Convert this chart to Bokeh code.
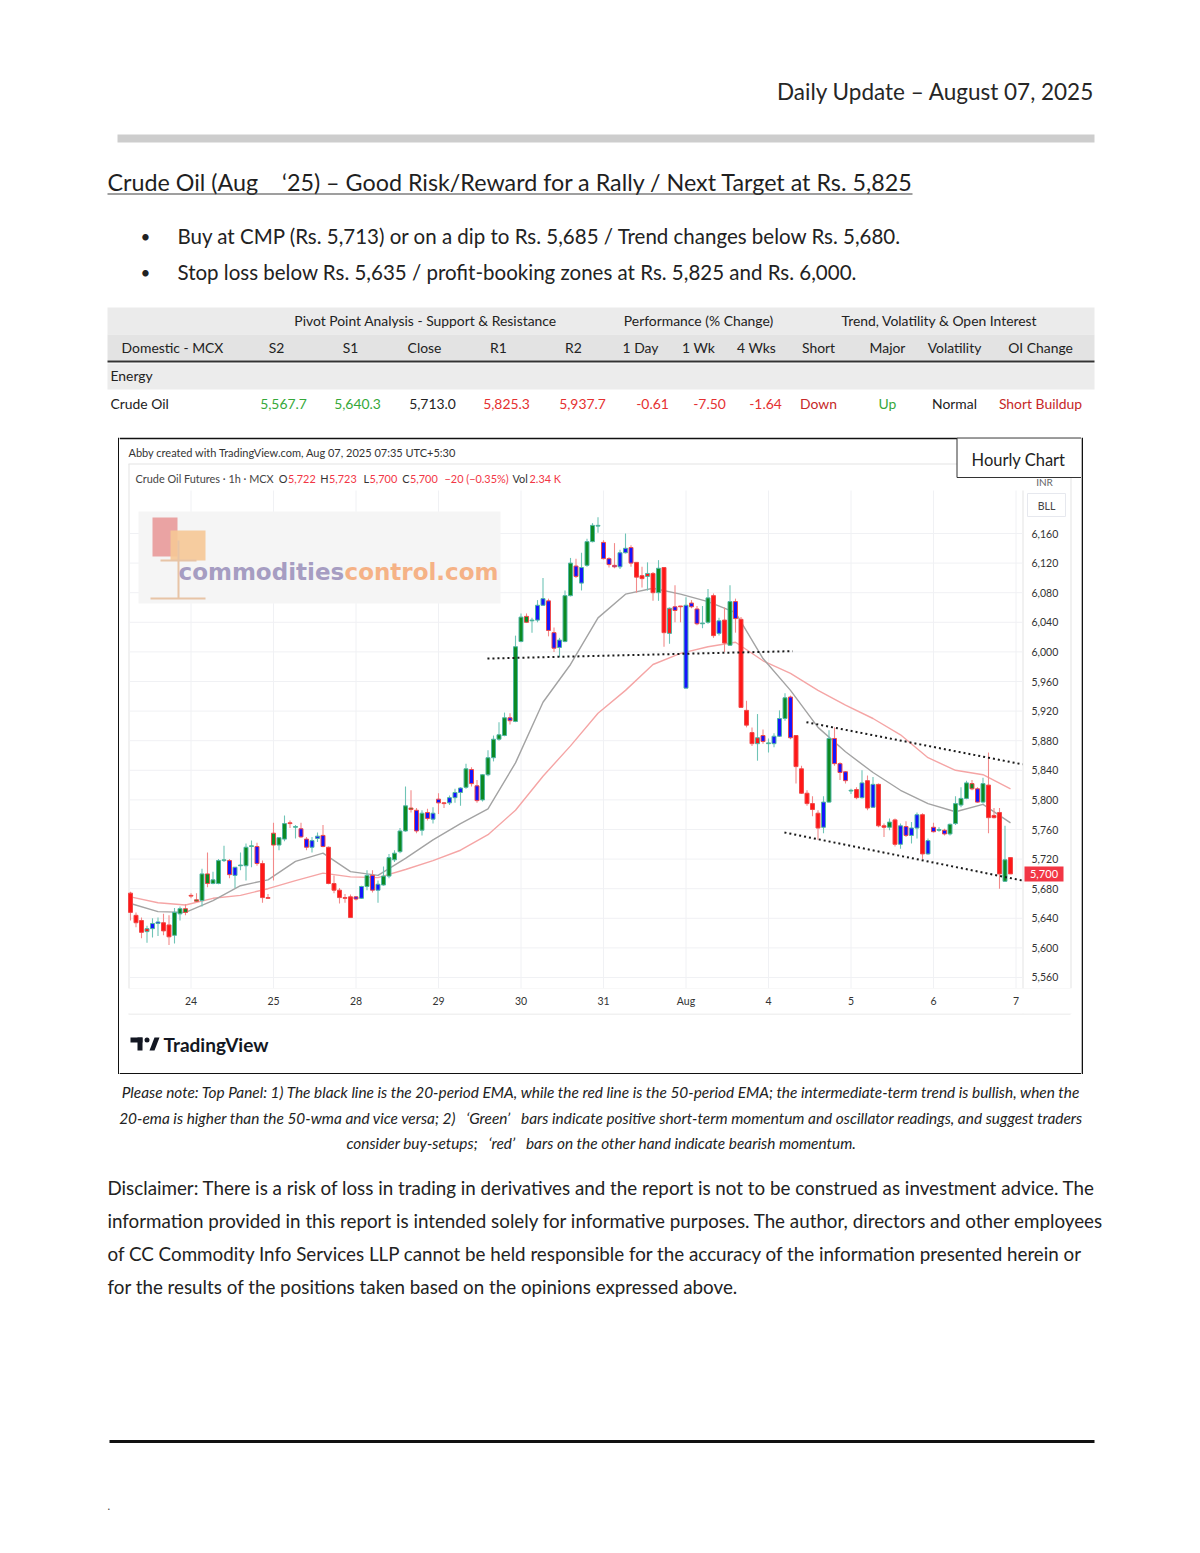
from bokeh.plotting import figure
from bokeh.layouts import column, row
from bokeh.models import Range1d, ColumnDataSource, FixedTicker
from bokeh.core.properties import value
from bokeh.embed import file_html
from bokeh.resources import INLINE

# ---------------- chart data (hourly candles, MCX crude oil) ----------------
opens = [5674, 5644, 5637, 5622, 5626, 5633, 5634, 5631, 5617, 5646,
         5653, 5671, 5665, 5664, 5700, 5687, 5687, 5718, 5718, 5698,
         5711, 5711, 5737, 5737, 5714, 5668, 5755, 5739, 5747, 5769,
         5763, 5761, 5747, 5736, 5748, 5752, 5736, 5687, 5678, 5668,
         5669, 5669, 5667, 5683, 5698, 5678, 5685, 5697, 5719, 5730,
         5758, 5789, 5786, 5759, 5783, 5774, 5801, 5796, 5796, 5803,
         5810, 5817, 5841, 5819, 5800, 5834, 5857, 5882, 5887, 5911,
         5906, 6014, 6048, 6042, 6043, 6063, 6069, 6026, 6006, 6014,
         6076, 6116, 6093, 6117, 6149, 6170, 6148, 6126, 6117, 6115,
         6134, 6141, 6121, 6103, 6102, 6106, 6080, 6114, 6025, 6061,
         6062, 5951, 6066, 6058, 6038, 6040, 6076, 6025, 6043, 6009,
         6068, 6044, 5921, 5891, 5876, 5887, 5876, 5876, 5886, 5910,
         5939, 5887, 5842, 5809, 5795, 5782, 5763, 5797, 5883, 5849,
         5838, 5812, 5814, 5803, 5826, 5790, 5821, 5765, 5763, 5773,
         5740, 5764, 5752, 5762, 5780, 5727, 5763, 5759, 5759, 5754,
         5768, 5793, 5802, 5822, 5815, 5797, 5820, 5779, 5783, 5690,
         5722]
highs = [5676, 5648, 5641, 5630, 5640, 5641, 5646, 5644, 5654, 5656,
         5659, 5674, 5674, 5707, 5729, 5703, 5720, 5738, 5720, 5709,
         5729, 5741, 5745, 5742, 5718, 5673, 5769, 5750, 5779, 5772,
         5766, 5769, 5750, 5750, 5756, 5766, 5737, 5698, 5681, 5673,
         5672, 5670, 5684, 5705, 5705, 5691, 5710, 5727, 5732, 5762,
         5818, 5813, 5789, 5786, 5788, 5790, 5809, 5797, 5806, 5815,
         5817, 5849, 5844, 5827, 5835, 5867, 5887, 5905, 5918, 5917,
         6022, 6052, 6052, 6046, 6070, 6100, 6072, 6033, 6019, 6083,
         6127, 6126, 6134, 6153, 6174, 6182, 6151, 6128, 6147, 6138,
         6160, 6144, 6121, 6115, 6121, 6108, 6124, 6114, 6060, 6090,
         6062, 6074, 6070, 6062, 6062, 6085, 6079, 6046, 6060, 6090,
         6072, 6047, 5934, 5898, 5916, 5895, 5883, 5890, 5921, 5944,
         5941, 5887, 5846, 5813, 5805, 5786, 5805, 5894, 5898, 5851,
         5839, 5815, 5817, 5840, 5833, 5831, 5822, 5768, 5775, 5775,
         5768, 5771, 5770, 5783, 5782, 5748, 5769, 5763, 5761, 5768,
         5805, 5817, 5826, 5827, 5817, 5830, 5864, 5789, 5789, 5765,
         5723]
lows = [5637, 5628, 5613, 5607, 5614, 5616, 5617, 5604, 5606, 5637,
        5644, 5667, 5662, 5656, 5682, 5686, 5686, 5716, 5694, 5681,
        5705, 5691, 5709, 5711, 5661, 5666, 5691, 5732, 5744, 5762,
        5748, 5749, 5732, 5729, 5743, 5736, 5686, 5674, 5660, 5661,
        5641, 5664, 5666, 5678, 5675, 5661, 5684, 5694, 5716, 5728,
        5757, 5783, 5755, 5752, 5772, 5768, 5781, 5789, 5793, 5796,
        5792, 5815, 5818, 5796, 5798, 5832, 5852, 5880, 5886, 5902,
        5905, 6013, 6039, 6026, 6040, 6062, 6021, 6000, 5993, 6013,
        6075, 6100, 6083, 6115, 6148, 6161, 6125, 6114, 6113, 6112,
        6133, 6115, 6080, 6087, 6083, 6069, 6069, 6007, 6011, 6040,
        6040, 5951, 6059, 6036, 6032, 6038, 6019, 6022, 6000, 6008,
        6026, 5925, 5898, 5873, 5853, 5876, 5864, 5871, 5885, 5907,
        5882, 5822, 5808, 5792, 5778, 5746, 5755, 5796, 5846, 5827,
        5822, 5808, 5801, 5802, 5786, 5789, 5763, 5750, 5759, 5737,
        5734, 5750, 5741, 5748, 5720, 5726, 5756, 5757, 5752, 5752,
        5766, 5790, 5801, 5813, 5796, 5795, 5755, 5775, 5680, 5689,
        5700]
closes = [5648, 5634, 5621, 5626, 5633, 5635, 5623, 5615, 5648, 5653,
          5648, 5670, 5663, 5700, 5687, 5692, 5718, 5719, 5699, 5709,
          5712, 5736, 5738, 5714, 5668, 5667, 5739, 5749, 5768, 5768,
          5764, 5750, 5736, 5745, 5751, 5737, 5687, 5678, 5668, 5667,
          5641, 5666, 5683, 5698, 5678, 5686, 5697, 5722, 5728, 5758,
          5792, 5787, 5758, 5782, 5775, 5782, 5796, 5795, 5803, 5810,
          5816, 5842, 5822, 5799, 5834, 5857, 5882, 5888, 5911, 5907,
          6007, 6047, 6040, 6043, 6063, 6072, 6029, 6005, 6016, 6076,
          6120, 6102, 6114, 6149, 6171, 6171, 6126, 6118, 6115, 6134,
          6140, 6120, 6101, 6099, 6106, 6080, 6113, 6026, 6059, 6056,
          6061, 6063, 6061, 6038, 6039, 6073, 6022, 6042, 6012, 6068,
          6045, 5925, 5901, 5876, 5884, 5879, 5877, 5886, 5910, 5938,
          5884, 5845, 5809, 5795, 5787, 5762, 5797, 5883, 5849, 5837,
          5826, 5813, 5803, 5823, 5789, 5821, 5765, 5763, 5770, 5740,
          5765, 5752, 5762, 5780, 5727, 5745, 5757, 5760, 5754, 5767,
          5795, 5802, 5823, 5815, 5797, 5822, 5776, 5776, 5700, 5719,
          5700]
# bar colouring by momentum: g = green, r = red, b = blue
momentum = list("rrrrbbrrgg" "grggggggbb" "gggbrrgggr" "gbbbbbrrrr"
                "rbbgbbgggg" "ggbgbbbrbb" "bgbbgggggb" "ggggbbbbbg"
                "gbbgggbbbb" "bbrrrrgrrb" "rbbbggrbrg" "brrrrbgbbg"
                "brrrrrbgbb" "bgrbrbrrgr" "bbbbrbbgbg" "ggggbgrrrg" "r")

ema_idx = list(range(0, 161, 5))
ema20 = [5660, 5649, 5648, 5664, 5684, 5692, 5717, 5728, 5703, 5698, 5721,
         5746, 5768, 5788, 5850, 5932, 5983, 6046, 6078, 6086, 6078, 6068,
         6053, 5991, 5948, 5898, 5865, 5837, 5813, 5795, 5784, 5794, 5769]
ema50 = [5669, 5661, 5658, 5667, 5671, 5680, 5691, 5701, 5696, 5695, 5706,
         5718, 5732, 5753, 5786, 5832, 5873, 5917, 5948, 5983, 5998, 6007,
         6013, 5988, 5971, 5948, 5928, 5910, 5888, 5857, 5840, 5834, 5815]

# hand-drawn dotted trend lines (bar index, price)
trend_mid_x = [64.9, 120.4]
trend_mid_y = [5991, 6001]
trend_up_x = [122.9, 162.2]
trend_up_y = [5905, 5848]
trend_lo_x = [118.9, 162.2]
trend_lo_y = [5756, 5691]

day_ticks = [11, 26, 41, 56, 71, 86, 101, 116, 131, 146, 161]
day_labels = ["24", "25", "28", "29", "30", "31", "Aug", "4", "5", "6", "7"]
price_ticks = [5560, 5600, 5640, 5680, 5720, 5760, 5800, 5840, 5880, 5920,
               5960, 6000, 6040, 6080, 6120, 6160]
last_price = 5700

# legend values of the last bar
ohlc_letters = ["O", "H", "L", "C"]
ohlc_values = ["5,722", "5,723", "5,700", "5,700"]

# ---------------- table data ----------------
group_headers = ["Pivot Point Analysis - Support & Resistance",
                 "Performance (% Change)", "Trend, Volatility & Open Interest"]
col_headers = ["Domestic - MCX", "S2", "S1", "Close", "R1", "R2", "1 Day", "1 Wk",
               "4 Wks", "Short", "Major", "Volatility", "OI Change"]
row_label = "Crude Oil"
row_values = ["5,567.7", "5,640.3", "5,713.0", "5,825.3", "5,937.7", "-0.61",
              "-7.50", "-1.64", "Down", "Up", "Normal", "Short Buildup"]
row_tone = ["g", "g", "k", "r", "r", "r", "r", "r", "d", "g", "k", "d"]

DOC = "Lato"
CH = "Lato"
NB = "\u00a0"


def pix_fig(w, h, x0, x1, y0, y1):
    p = figure(width=w, height=h, x_range=Range1d(x0, x1), y_range=Range1d(y1, y0),
               output_backend="svg", toolbar_location=None,
               x_axis_location=None, y_axis_location=None,
               min_border=0, min_border_left=0, min_border_right=0,
               min_border_top=0, min_border_bottom=0)
    p.outline_line_color = None
    p.grid.visible = False
    p.background_fill_color = "white"
    p.border_fill_color = "white"
    return p


def put(p, x, y, s, size, color="#222222", align="left", font=DOC, style="normal",
        baseline="middle", **kw):
    p.text(x=[x], y=[y], text=[s], text_font=value(font), text_font_size=f"{size}px",
           text_color=color, text_align=align, text_baseline=baseline,
           text_font_style=style, **kw)


# ================= top section (page y 0..437) =================
top = pix_fig(1200, 437, 0, 1200, 0, 437)
put(top, 1094, 91, "Daily Update – August 07, 2025", 22.5, "#262626", align="right")
top.quad(left=[117], right=[1094], top=[134], bottom=[142], fill_color="#cdcdcd", line_color=None)
put(top, 107, 181, "Crude Oil (Aug" + NB * 4 + "‘25) – Good Risk/Reward for a Rally / Next Target at Rs. 5,825",
    23.3, "#1f1f1f")
top.segment(x0=[107], y0=[193.5], x1=[912], y1=[193.5], line_color="#404040", line_width=1.2)
put(top, 145, 236, "•", 17, "#222222", align="center")
put(top, 145, 272, "•", 17, "#222222", align="center")
put(top, 177, 235, "Buy at CMP (Rs. 5,713) or on a dip to Rs. 5,685 / Trend changes below Rs. 5,680.",
    20.5, "#222222")
put(top, 177, 271, "Stop loss below Rs. 5,635 / profit-booking zones at Rs. 5,825 and Rs. 6,000.",
    20.5, "#222222")

# table
top.quad(left=[107], right=[1094], top=[307], bottom=[334], fill_color="#ebebeb", line_color=None)
top.quad(left=[107], right=[1094], top=[334], bottom=[360], fill_color="#e3e3e3", line_color=None)
top.segment(x0=[107], y0=[361], x1=[1094], y1=[361], line_color="#333333", line_width=2)
top.quad(left=[107], right=[1094], top=[363], bottom=[389], fill_color="#ececec", line_color=None)
for gx, g in zip([425, 698, 939], group_headers):
    put(top, gx, 320, g, 13.9, "#222222", align="center")
for cx, h in zip([172, 276, 350, 424, 498, 573, 640, 698, 756, 818, 887, 954, 1040], col_headers):
    put(top, cx, 347, h, 13.9, "#222222", align="center")
put(top, 110, 375, "Energy", 13.9, "#222222")
put(top, 110, 403, row_label, 13.9, "#222222")
tone_col = {"g": "#35a83a", "r": "#e53030", "k": "#222222", "d": "#c62828"}
for vx, v, t in zip([283, 357, 432, 506, 582, 652, 709, 765, 818, 887, 954, 1040],
                    row_values, row_tone):
    put(top, vx, 403, v, 13.9, tone_col[t], align="center")

# ================= chart (page x 119..1081, y 437..1013) =================
# frame covers x 119..1081 and y 437..988; the time axis sits below it
mid = figure(width=962, height=576, x_range=Range1d(-2.0, 172.909),
             y_range=Range1d(5545.135, 6289.73), output_backend="svg",
             toolbar_location=None, x_axis_location="below", y_axis_location=None,
             min_border_left=0, min_border_right=0, min_border_top=0, min_border_bottom=25)
mid.background_fill_color = "white"
mid.border_fill_color = "white"
mid.outline_line_color = None
mid.grid.visible = False
mid.extra_x_ranges = {"px": Range1d(119, 1081)}
mid.extra_y_ranges = {"py": Range1d(988, 437)}
PX = dict(x_range_name="px", y_range_name="py")

xa = mid.xaxis[0]
xa.ticker = FixedTicker(ticks=day_ticks)
xa.major_label_overrides = {t: l for t, l in zip(day_ticks, day_labels)}
xa.major_tick_line_color = None
xa.minor_tick_line_color = None
xa.axis_line_color = None
xa.major_label_text_font = CH
xa.major_label_text_font_size = "10.5px"
xa.major_label_text_color = "#333333"
xa.major_label_standoff = 0

# box top line and chart header
mid.segment(x0=[119], y0=[437.9], x1=[1081], y1=[437.9], line_color="#111111", line_width=1.6, **PX)
put(mid, 128, 452, "Abby created with TradingView.com, Aug 07, 2025 07:35 UTC+5:30", 11, "#333333",
    font=CH, **PX)
# widget frame lines
light = "#e3e3e3"
mid.segment(x0=[128, 128.5, 1070.5, 1022.5, 128], y0=[463.5, 463.5, 463.5, 490, 988.5],
            x1=[1070, 128.5, 1070.5, 1022.5, 1070], y1=[463.5, 988, 988, 988, 988.5],
            line_color=light, line_width=1, **PX)
put(mid, 135, 478, "Crude Oil Futures · 1h · MCX", 10.9, "#444444", font=CH, **PX)
tv_red = "#f23645"
for x, letter, v in zip([287.5, 328.5, 369, 409.5], ohlc_letters, ohlc_values):
    put(mid, x - 0.5, 478, letter, 10.9, "#333333", align="right", font=CH, **PX)
    put(mid, x, 478, v, 10.9, tv_red, font=CH, **PX)
put(mid, 444, 478, "−20 (−0.35%)", 10.9, tv_red, font=CH, **PX)
put(mid, 512, 478, "Vol", 10.9, "#333333", font=CH, **PX)
put(mid, 529, 478, "2.34" + NB + "K", 10.9, tv_red, font=CH, **PX)

# grid
mid.segment(x0=day_ticks, y0=[490] * len(day_ticks), x1=day_ticks, y1=[988] * len(day_ticks),
            line_color="#f0f1f4", line_width=1, y_range_name="py")
mid.segment(x0=[128] * len(price_ticks), y0=price_ticks, x1=[1022] * len(price_ticks), y1=price_ticks,
            line_color="#f0f1f4", line_width=1, x_range_name="px")

# watermark
mid.quad(left=[138], right=[500], top=[511], bottom=[603], fill_color="#f5f5f5", line_color=None, **PX)
mid.quad(left=[152], right=[177], top=[517], bottom=[556], fill_color="#eaa3a3", line_color=None, **PX)
mid.quad(left=[170], right=[205], top=[530], bottom=[560], fill_color="#f6c896", line_color=None,
         fill_alpha=0.9, **PX)
mid.segment(x0=[160, 178, 150], y0=[560, 540, 598], x1=[196, 178, 205], y1=[560, 598, 598],
            line_color="#e7c4a6", line_width=2, **PX)
mid.text(x=[178], y=[571], text=["commodities"], text_font=value("DejaVu Sans"),
         text_font_size="23px", text_font_style="bold", text_color="#a69dc2",
         text_baseline="middle", **PX)
mid.text(x=[344], y=[571], text=["control.com"], text_font=value("DejaVu Sans"),
         text_font_size="23px", text_font_style="bold", text_color="#f5b286",
         text_baseline="middle", **PX)

# EMAs
mid.line(ema_idx, ema50, line_color="#f5a5a5", line_width=1.4)
mid.line(ema_idx, ema20, line_color="#a3a3a3", line_width=1.4)

# candles
inc = [c >= o for o, c in zip(opens, closes)]
fill_map = {"g": "#0c8a22", "r": "#ff1717", "b": "#1414ff"}
src = ColumnDataSource(dict(
    x=list(range(len(opens))), h=highs, l=lows,
    top=[max(o, c) for o, c in zip(opens, closes)],
    bot=[min(o, c) for o, c in zip(opens, closes)],
    fill=[fill_map[m] for m in momentum],
    edge=["#4fb5a3" if u else "#f04848" for u in inc],
    wick=["#6fc4b6" if u else "#f28a8a" for u in inc],
))
mid.segment(x0="x", y0="l", x1="x", y1="h", line_color="wick", line_width=1.1, source=src)
mid.vbar(x="x", width=0.72, top="top", bottom="bot", fill_color="fill", line_color="edge",
         line_width=1, source=src)

# dotted trend lines
for tx, ty in [(trend_mid_x, trend_mid_y), (trend_up_x, trend_up_y), (trend_lo_x, trend_lo_y)]:
    mid.line(tx, ty, line_color="#1a1a1a", line_width=2, line_dash="2 3")

# price scale labels
mid.text(x=[1031] * len(price_ticks), y=price_ticks, text=[f"{v:,}" for v in price_ticks],
         text_font=value(CH), text_font_size="10.5px", text_color="#333333",
         text_baseline="middle", text_align="left", x_range_name="px")
mid.quad(left=[1027], right=[1065], top=[493], bottom=[516], fill_color="white",
         line_color="#e6e8ee", line_width=1, **PX)
put(mid, 1046, 505, "BLL", 10.5, "#444444", align="center", font=CH, **PX)
mid.rect(x=[1043.5], y=[last_price], width=39, height=15, height_units="screen",
         fill_color="#f23645", line_color=None, x_range_name="px")
mid.text(x=[1043.5], y=[last_price], text=[f"{last_price:,}"], text_font=value(CH),
         text_font_size="11px", text_color="white", text_align="center",
         text_baseline="middle", x_range_name="px")
put(mid, 1044, 481, "INR", 10, "#666666", align="center", font=CH, **PX)
mid.quad(left=[956.5], right=[1081], top=[437.5], bottom=[477], fill_color="white",
         line_color="#333333", line_width=1, **PX)
put(mid, 1018, 459, "Hourly Chart", 16.5, "#222222", align="center", **PX)

# ================= chart footer (page y 1013..1074) =================
ftr = pix_fig(962, 61, 119, 1081, 1013, 1074)
ftr.segment(x0=[128, 128.5, 1070.5, 1022.5], y0=[1013.5, 1013, 1013, 1013],
            x1=[1070, 128.5, 1070.5, 1022.5], y1=[1013.5, 1013.5, 1013.5, 1013.5],
            line_color=light, line_width=1)
ftr.segment(x0=[119], y0=[1073.2], x1=[1081], y1=[1073.2], line_color="#111111", line_width=1.6)
ftr.quad(left=[130], right=[142], top=[1037], bottom=[1042], fill_color="#131722", line_color=None)
ftr.quad(left=[137], right=[142], top=[1037], bottom=[1050], fill_color="#131722", line_color=None)
ftr.scatter(x=[146.5], y=[1039.5], size=5, marker="circle", fill_color="#131722", line_color=None)
ftr.patch(x=[149, 154, 159, 154], y=[1050, 1037, 1037, 1050], fill_color="#131722", line_color=None)
put(ftr, 163, 1043.5, "TradingView", 19, "#131722", font="Lato", style="bold")

# side borders of the chart box
padL = pix_fig(119, 637, 0, 119, 437, 1074)
padL.segment(x0=[118.3], y0=[437], x1=[118.3], y1=[1074], line_color="#111111", line_width=1.6)
padR = pix_fig(119, 637, 1081, 1200, 437, 1074)
padR.segment(x0=[1081.7], y0=[437], x1=[1081.7], y1=[1074], line_color="#111111", line_width=1.6)

# ================= bottom section (page y 1074..1544) =================
bot = pix_fig(1200, 470, 0, 1200, 1074, 1544)
notes = ["Please note: Top Panel: 1) The black line is the 20-period EMA, while the red line is the 50-period EMA; the intermediate-term trend is bullish, when the",
         "20-ema is higher than the 50-wma and vice versa; 2)" + NB * 3 + "‘Green’" + NB * 3 + "bars indicate positive short-term momentum and oscillator readings, and suggest traders",
         "consider buy-setups;" + NB * 3 + "‘red’" + NB * 3 + "bars on the other hand indicate bearish momentum."]
for ny, n in zip([1091, 1117, 1142], notes):
    put(bot, 601, ny, n, 15.4, "#222222", align="center", style="italic")
disc = ["Disclaimer: There is a risk of loss in trading in derivatives and the report is not to be construed as investment advice. The",
        "information provided in this report is intended solely for informative purposes. The author, directors and other employees",
        "of CC Commodity Info Services LLP cannot be held responsible for the accuracy of the information presented herein or",
        "for the results of the positions taken based on the opinions expressed above."]
for dy, d in zip([1187, 1220, 1253, 1286], disc):
    put(bot, 107, dy, d, 18.8, "#222222")
bot.segment(x0=[109], y0=[1441], x1=[1094], y1=[1441], line_color="#111111", line_width=3)
put(bot, 107, 1505, ".", 11, "#444444")

page = column(top, row(padL, column(mid, ftr), padR), bot)
open("out.html", "w").write(file_html(page, INLINE))
